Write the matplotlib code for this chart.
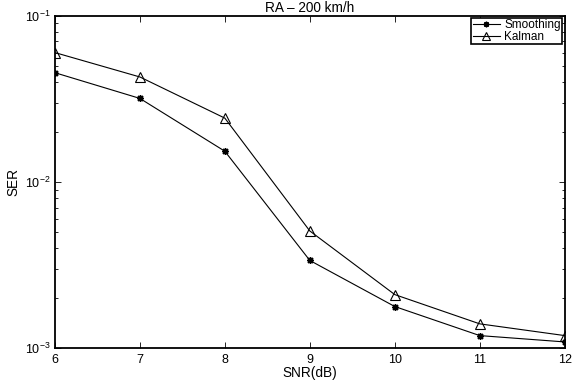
import matplotlib
matplotlib.use("Agg")
import matplotlib.pyplot as plt
from matplotlib.ticker import LogLocator, NullFormatter

plt.rcParams['font.family'] = ['Liberation Sans', 'DejaVu Sans']
plt.rcParams['mathtext.fontset'] = 'custom'
plt.rcParams['mathtext.rm'] = 'Liberation Sans'
plt.rcParams['mathtext.default'] = 'regular'

snr = [6, 7, 8, 9, 10, 11, 12]
ser_smoothing = [0.0454, 0.0318, 0.0153, 0.00337, 0.00178, 0.00119, 0.00109]
ser_kalman = [0.060, 0.0428, 0.0242, 0.00507, 0.0021, 0.0014, 0.00119]

fig = plt.figure(figsize=(5.84, 3.83), dpi=100)
ax = fig.add_axes([0.094, 0.091, 0.873, 0.868])

ax.semilogy(snr, ser_smoothing, color='black', lw=0.8, marker=(8, 2, 0),
            ms=5, mfc='black', mec='black', mew=1.0, label='Smoothing')
ax.semilogy(snr, ser_kalman, color='black', lw=0.8, marker='^',
            ms=7, mfc='none', mec='black', mew=0.8, label='Kalman')

ax.set_xlim(6, 12)
ax.set_ylim(1e-3, 1e-1)
ax.set_xticks(snr)
ax.yaxis.set_major_locator(LogLocator(base=10, numticks=10))
ax.yaxis.set_minor_locator(LogLocator(base=10, subs=range(2, 10), numticks=10))
ax.yaxis.set_minor_formatter(NullFormatter())

ax.tick_params(which='both', direction='in', top=True, right=True,
               labelsize=9, width=0.6)
ax.tick_params(which='major', length=4)
ax.tick_params(axis='x', which='major', pad=4)
ax.tick_params(axis='y', which='major', pad=3)
ax.tick_params(which='minor', length=2)
for s in ax.spines.values():
    s.set_linewidth(1.3)

ax.set_title('RA – 200 km/h', fontsize=9.8, pad=2.5)
ax.set_xlabel('SNR(dB)', fontsize=9.8, labelpad=0)
ax.set_ylabel('SER', fontsize=9.8, labelpad=3)

leg = ax.legend(loc='upper right', fontsize=8.5, fancybox=False,
                edgecolor='black', framealpha=1, borderpad=0.12,
                labelspacing=-0.05, handlelength=2.3, handletextpad=0.4,
                borderaxespad=0.2, markerscale=0.8)
leg.get_frame().set_linewidth(1.2)

fig.savefig('out.png', dpi=100)
